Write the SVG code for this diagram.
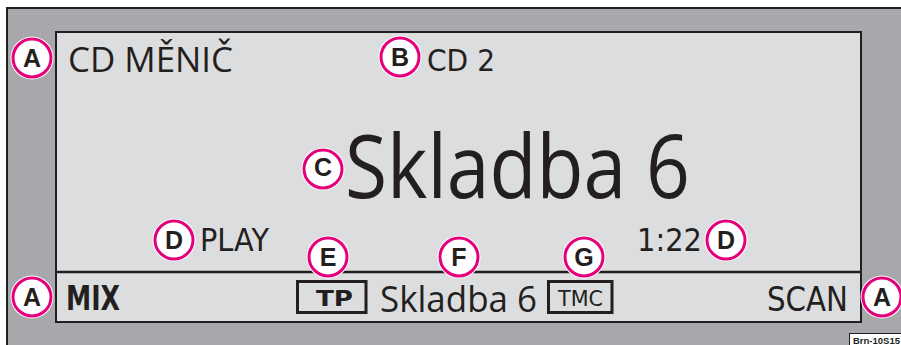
<svg xmlns="http://www.w3.org/2000/svg" width="901" height="345" viewBox="0 0 901 345">
<style>
.frame{fill:#a7a8ab;stroke:#231f20;stroke-width:2}
.screen{fill:#dcdddf;stroke:#231f20;stroke-width:2}
.div{stroke:#231f20;stroke-width:2.5}
.sans{font-family:"Open Sans","Liberation Sans",sans-serif;fill:#231f20}
.pix{font-family:"DejaVu Sans","Liberation Sans",sans-serif;fill:#231f20}
.box{fill:none;stroke:#231f20;stroke-width:3}
.halo{fill:#fff}
.ring{fill:#fff;stroke:#e4007c;stroke-width:3}
.lbl{font-family:"Liberation Sans","Open Sans",sans-serif;font-weight:bold;font-size:25px;fill:#231f20;text-anchor:middle}
</style>
<defs>
<g id="callout"><circle class="halo" r="21.5"/><circle class="ring" r="19"/></g>
</defs>
<rect class="frame" x="7" y="8" width="900" height="345"/>
<rect class="screen" x="56" y="32" width="805" height="290"/>
<line class="div" x1="56" y1="272" x2="861" y2="272"/>
<g id="texts">
<text class="sans" x="68" y="72" font-size="34" textLength="165" lengthAdjust="spacingAndGlyphs">CD MĚNIČ</text>
<text class="pix" x="427" y="71" font-size="31" textLength="68" lengthAdjust="spacingAndGlyphs">CD 2</text>
<text class="sans" x="345" y="198" font-size="88" textLength="345" lengthAdjust="spacingAndGlyphs">Skladba 6</text>
<text class="pix" x="200" y="250.5" font-size="32" textLength="69" lengthAdjust="spacingAndGlyphs">PLAY</text>
<text class="pix" x="637" y="250.5" font-size="32" textLength="65" lengthAdjust="spacingAndGlyphs">1:22</text>
<text class="pix" x="66" y="310" font-size="34" font-weight="bold" textLength="54" lengthAdjust="spacingAndGlyphs">MIX</text>
<text class="pix" x="767" y="310.5" font-size="34" textLength="81" lengthAdjust="spacingAndGlyphs">SCAN</text>
<text class="sans" x="380" y="311.5" font-size="36" textLength="157" lengthAdjust="spacingAndGlyphs">Skladba 6</text>
</g>
<g id="tp"><rect class="box" x="297.5" y="281.5" width="68.5" height="31"/><text class="pix" x="316" y="306" font-size="21" font-weight="bold" textLength="37" lengthAdjust="spacingAndGlyphs">TP</text></g>
<g id="tmc"><rect class="box" x="548.5" y="281.5" width="63.5" height="31"/><text class="pix" x="558" y="306" font-size="21" textLength="45" lengthAdjust="spacingAndGlyphs">TMC</text></g>
<g id="callA1"><use href="#callout" x="32" y="58"/><text class="lbl" x="32" y="67">A</text></g>
<g id="callB"><use href="#callout" x="400" y="57"/><text class="lbl" x="400" y="66">B</text></g>
<g id="callC"><use href="#callout" x="323" y="169"/><text class="lbl" x="323" y="176" font-size="20">C</text></g>
<g id="callD1"><use href="#callout" x="174" y="240"/><text class="lbl" x="174" y="249">D</text></g>
<g id="callD2"><use href="#callout" x="726" y="240"/><text class="lbl" x="726" y="249">D</text></g>
<g id="callE"><use href="#callout" x="328" y="257"/><text class="lbl" x="328" y="266">E</text></g>
<g id="callF"><use href="#callout" x="459" y="257"/><text class="lbl" x="459" y="266">F</text></g>
<g id="callG"><use href="#callout" x="584" y="257"/><text class="lbl" x="584" y="266">G</text></g>
<g id="callA2"><use href="#callout" x="32" y="297"/><text class="lbl" x="32" y="306">A</text></g>
<g id="callA3"><use href="#callout" x="882" y="297"/><text class="lbl" x="882" y="306">A</text></g>
<g id="ref"><rect x="849.5" y="333.5" width="60" height="20" fill="#fff" stroke="#231f20" stroke-width="1"/><text x="853" y="344" font-family="Liberation Sans,sans-serif" font-weight="bold" font-size="9.5" fill="#231f20">Brn-10S15</text></g>
</svg>
